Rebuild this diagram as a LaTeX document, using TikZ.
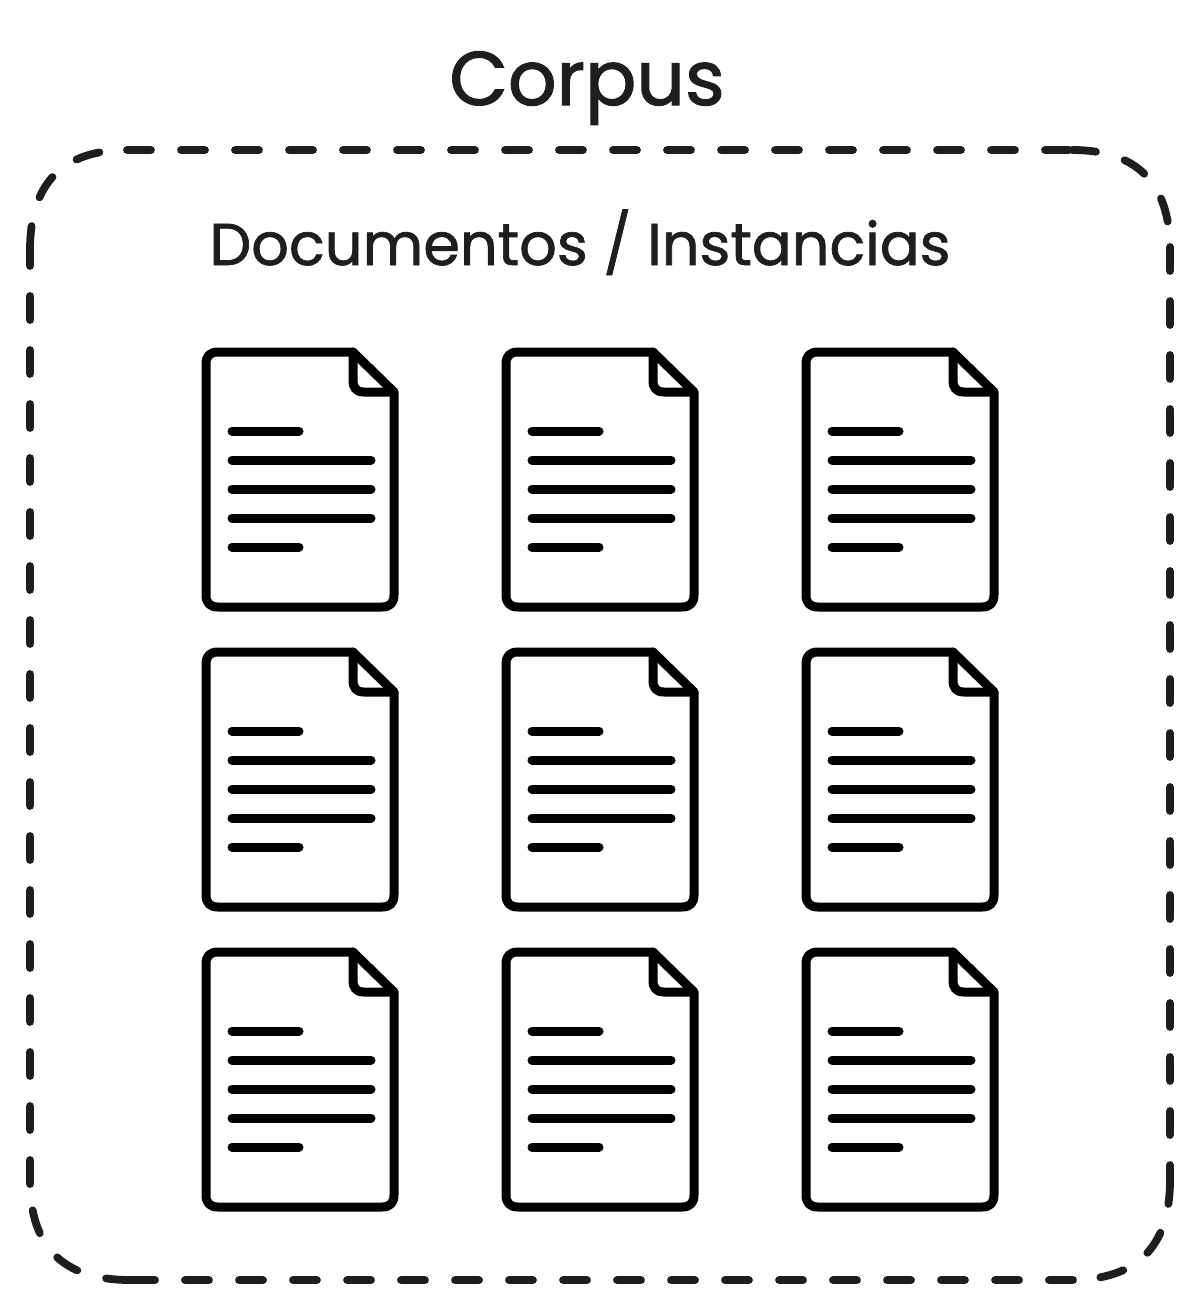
\documentclass[tikz,border=0pt]{standalone}
\usepackage{fontspec}
\setmainfont{Poppins}
\definecolor{inkgray}{HTML}{1E1E1E}
\tikzset{
  corpusline/.style = {draw = inkgray, line width = 3.9pt, line cap = round, dash pattern = on 12pt off 15pt},
  docline/.style = {draw = black, line width = 4.5pt, line cap = round, line join = round},
  corpustitle/.style = {text = inkgray, anchor = base, inner sep = 0pt, font = \fontsize{38pt}{38pt}\selectfont\addfontfeature{FakeBold=1.5}},
  doctitle/.style = {text = inkgray, anchor = base, inner sep = 0pt, font = \fontsize{29.5pt}{29.5pt}\selectfont\addfontfeature{FakeBold=1.2}}
}
\begin{document}
\begin{tikzpicture}[x = 0.5pt, y = -0.5pt]
\useasboundingbox (0,0) rectangle (1200,1311);
\node[corpustitle] (corpus) at (587,105) {Corpus};
\node[doctitle] (instancias) at (580,265) {Documentos / Instancias};
% dashed frame, the dashes start anew on every side and corner
\draw[corpusline] (127,150) -- (1072,150)
  (1072,150) .. controls (1137,150) and (1170,183) .. (1170,250)
  (1170,247) -- (1170,1180)
  (1170,1180) .. controls (1170,1247) and (1137,1280) .. (1070,1280)
  (1073,1280) -- (130,1280)
  (130,1280) .. controls (63,1280) and (30,1247) .. (30,1180)
  (30,1184) -- (30,250)
  (30,250) .. controls (30,183) and (63,150) .. (127,150);
% documents
\foreach \col in {0,300,600} {
\foreach \row in {0,300,600} {
\begin{scope}[shift = {(\col,\row)}]
\draw[docline] (353,352) -- (218,352) .. controls (210,352) and (206,356) .. (206,364) -- (206,595)
  .. controls (206,603) and (210,607) .. (218,607) -- (382,607) .. controls (390,607) and (394,603) .. (394,595)
  -- (394,392) -- (353,352);
\draw[docline] (353,352) -- (353,380) .. controls (353,388) and (356,392) .. (364,392) -- (394,392);
\draw[docline] (232,431) -- (299,431);
\draw[docline] (232,460) -- (371,460);
\draw[docline] (232,489) -- (371,489);
\draw[docline] (232,518) -- (371,518);
\draw[docline] (232,547) -- (299,547);
\end{scope}
}
}
\end{tikzpicture}
\end{document}
